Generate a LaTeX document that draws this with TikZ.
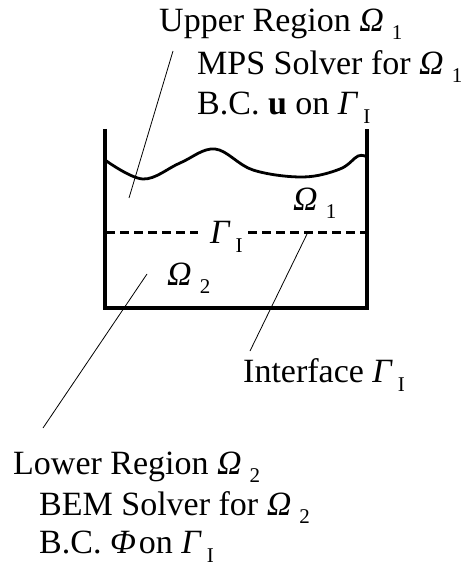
\documentclass[tikz,border=0pt]{standalone}
\usepackage{fontspec}
\setmainfont{Liberation Serif}
\usetikzlibrary{positioning}

\newcommand{\Om}[1]{\textit{Ω}\hspace{8pt}\raisebox{-8pt}{\fontsize{21}{21}\selectfont #1}}
\newcommand{\Gm}[1]{\textit{Γ}\hspace{5pt}\raisebox{-9pt}{\fontsize{21}{21}\selectfont #1}}

\begin{document}
\begin{tikzpicture}[
        x=1pt, y=-1pt,
        txt/.style={anchor=base west, inner sep=0pt, font=\fontsize{34}{40}\selectfont},
        wall/.style={line width=3.6pt, line join=miter},
        wave/.style={line width=2.8pt},
        leader/.style={line width=0.8pt},
        iface/.style={line width=3pt, dash pattern=on 9pt off 5pt}
    ]
    \useasboundingbox (0,0) rectangle (468,569);

    % Texts
    \node[txt] (upper) at (159,32) {Upper Region \Om{1}};
    \node[txt] (mps) at (197,75) {MPS Solver for \Om{1}};
    \node[txt] (bcu) at (197,115) {B.C. \textbf{u} on \Gm{I}};
    \node[txt] (om1) at (293,210) {\Om{1}};
    \node[txt] (gam) at (210,243) {\Gm{I}};
    \node[txt] (om2) at (167,285) {\Om{2}};
    \node[txt] (inter) at (243,382) {Interface \Gm{I}};
    \node[txt] (lower) at (13,474) {Lower Region \Om{2}};
    \node[txt] (bem) at (39,515) {BEM Solver for \Om{2}};
    \node[txt] (bcphi) at (39,553) {B.C. \textit{Φ}\hspace{3pt}on \Gm{I}};

    % Tank
    \coordinate (tl) at (105,129);
    \coordinate (bl) at (105,308);
    \coordinate (br) at (367,308);
    \coordinate (tr) at (367,129);
    \draw[wall] (tl) -- (bl) -- (br) -- (tr);
    \draw[wave] plot[smooth, tension=0.6] coordinates {(105,160) (143,179) (180,163) (215,149) (253,170) (303,177) (340,169) (358,156) (367,157)};

    % Interface
    \coordinate (ifl) at (106,232);
    \coordinate (ifm) at (198,232);
    \coordinate (ifn) at (248,232);
    \coordinate (ifr) at (366,232);
    \draw[iface] (ifl) -- (ifm);
    \draw[iface] (ifn) -- (ifr);

    % Leaders
    \coordinate (upA) at (173,51);
    \coordinate (upB) at (129,198);
    \coordinate (loA) at (147,274);
    \coordinate (loB) at (43,428);
    \coordinate (inA) at (308,232);
    \coordinate (inB) at (250,351);
    \draw[leader] (upA) -- (upB);
    \draw[leader] (loA) -- (loB);
    \draw[leader] (inA) -- (inB);

\end{tikzpicture}
\end{document}
